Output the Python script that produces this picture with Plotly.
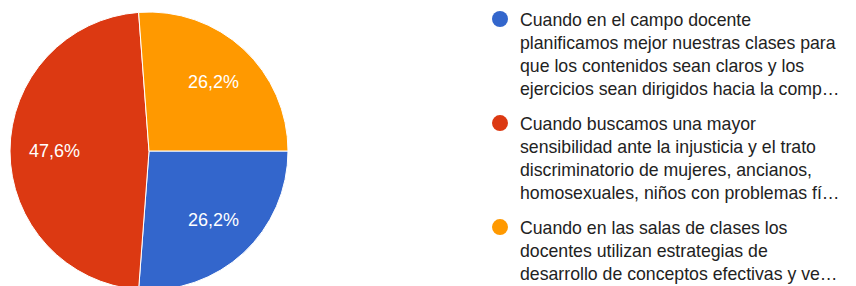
import math
import plotly.graph_objects as go

# ---- data ----
labels = [
    "Cuando en el campo docente<br>planificamos mejor nuestras clases para<br>que los contenidos sean claros y los<br>ejercicios sean dirigidos hacia la comp…",
    "Cuando buscamos una mayor<br>sensibilidad ante la injusticia y el trato<br>discriminatorio de mujeres, ancianos,<br>homosexuales, niños con problemas fí…",
    "Cuando en las salas de clases los<br>docentes utilizan estrategias de<br>desarrollo de conceptos efectivas y ve…",
]
counts = [11, 20, 11]
colors = ["#3366cc", "#dc3912", "#ff9900"]

# ---- geometry ----
W, H = 856, 700
ML, MT, D = 10, 12, 278

fig = go.Figure()
fig.add_trace(go.Pie(
    labels=labels, values=counts, sort=False, direction="clockwise", rotation=90,
    marker=dict(colors=colors, line=dict(color="white", width=1)),
    textinfo="none", showlegend=False, hoverinfo="percent",
    domain=dict(x=[0, 1], y=[0, 1]),
))

# legend entries (round markers)
for i, (lab, c) in enumerate(zip(labels, colors)):
    fig.add_trace(go.Scatter(
        x=[None], y=[None], mode="markers", name=lab,
        marker=dict(color=c, size=16, symbol="circle"),
        legendgroup=f"g{i}", showlegend=True, hoverinfo="skip",
    ))

# percentage labels placed at 68% of radius along each slice's bisector
total = sum(counts)
cum = 0
for v in counts:
    theta = math.radians(90 + 360 * (cum + v / 2) / total)
    cum += v
    fig.add_annotation(
        x=0.5 + 0.34 * math.sin(theta), y=0.5 + 0.34 * math.cos(theta),
        xref="paper", yref="paper", xanchor="center", yanchor="middle",
        showarrow=False,
        text=f"{100 * v / total:.1f}%".replace(".", ","),
        font=dict(color="white", size=18, family="Arial"),
    )

fig.update_layout(
    width=W, height=H, autosize=False,
    margin=dict(l=ML, t=MT, r=W - ML - D, b=H - MT - D, pad=0, autoexpand=False),
    paper_bgcolor="white", plot_bgcolor="white",
    font=dict(family="Arial", color="#222222"),
    xaxis=dict(visible=False), yaxis=dict(visible=False),
    legend=dict(
        x=(480 - ML) / D, y=1 + 11 / D, xanchor="left", yanchor="top",
        valign="top", traceorder="grouped", tracegroupgap=9,
        itemsizing="trace", bgcolor="rgba(0,0,0,0)",
        font=dict(family="Arial", size=17.7, color="#222222"),
    ),
)

fig.write_html(
    "out.html",
    config={"displayModeBar": False},
    post_script="document.body.style.margin='0';document.body.style.overflow='hidden';",
)
